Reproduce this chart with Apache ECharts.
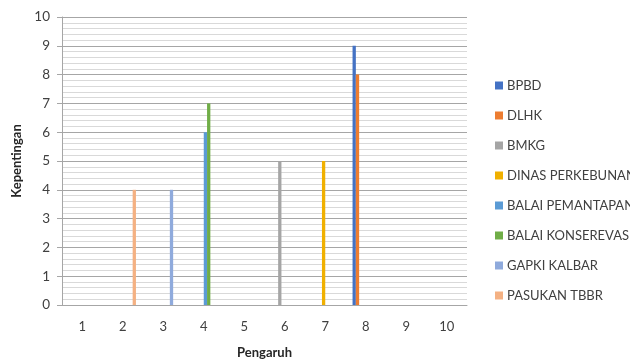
<!DOCTYPE html>
<html><head><meta charset="utf-8">
<script src="https://cdn.jsdelivr.net/npm/echarts@6/dist/echarts.min.js"></script>
<style>html,body{margin:0;padding:0;background:#fff}#c{width:630px;height:360px}</style>
</head><body><div id="c"></div>
<script>
const categories = ['1','2','3','4','5','6','7','8','9','10'];
const seriesNames = ['BPBD','DLHK','BMKG','DINAS PERKEBUNAN','BALAI PEMANTAPAN','BALAI KONSEREVASI','GAPKI KALBAR','PASUKAN TBBR'];
const bpbd      = [0,0,0,0,0,0,0,9,0,0];
const dlhk      = [0,0,0,0,0,0,0,8,0,0];
const bmkg      = [0,0,0,0,0,5,0,0,0,0];
const dinas     = [0,0,0,0,0,0,5,0,0,0];
const balaiPem  = [0,0,0,6,0,0,0,0,0,0];
const balaiKons = [0,0,0,7,0,0,0,0,0,0];
const gapki     = [0,0,4,0,0,0,0,0,0,0];
const pasukan   = [0,4,0,0,0,0,0,0,0,0];
const yTicks = [0,1,2,3,4,5,6,7,8,9,10];
const colors = ['#4472C4','#ED7D31','#A5A5A5','#F0B000','#5B9BD5','#70AD47','#8FAADC','#F4B183'];
const allData = [bpbd,dlhk,bmkg,dinas,balaiPem,balaiKons,gapki,pasukan];

const font = 'Lato, "Open Sans", sans-serif';
const chart = echarts.init(document.getElementById('c'), null, {renderer:'canvas'});
chart.setOption({
  animation:false,
  color: colors,
  textStyle:{fontFamily:font},
  grid:{left:62, right:163, top:17, bottom:55, containLabel:false, outerBoundsMode:'none'},
  legend:{
    orient:'vertical', left:490, top:74, itemGap:17, itemWidth:8, itemHeight:8,
    icon:'rect', itemStyle:{borderWidth:0},
    textStyle:{fontFamily:font, fontSize:13, color:'#404040', padding:[0,0,0,-1]},
    data: seriesNames
  },
  xAxis:{
    type:'category', data:categories,
    name:'Pengaruh', nameLocation:'middle', nameGap:41,
    nameTextStyle:{fontFamily:font, fontWeight:'bold', fontSize:13, color:'#262626'},
    axisLine:{lineStyle:{color:'#a6a6a6'}},
    axisTick:{show:false},
    axisLabel:{fontFamily:font, fontSize:13, color:'#404040', margin:15}
  },
  yAxis:{
    type:'value', min:0, max:10, interval:1,
    name:'Kepentingan', nameLocation:'middle', nameGap:38, nameRotate:90,
    nameTextStyle:{fontFamily:font, fontWeight:'bold', fontSize:13, color:'#262626'},
    axisLine:{show:true, lineStyle:{color:'#a6a6a6'}},
    axisTick:{show:true, length:5, lineStyle:{color:'#a6a6a6'}},
    axisLabel:{fontFamily:font, fontSize:13.5, color:'#404040', margin:12},
    splitLine:{lineStyle:{color:'#a6a6a6'}},
    minorTick:{show:false, splitNumber:5},
    minorSplitLine:{show:true, lineStyle:{color:'#d9d9d9'}}
  },
  series: seriesNames.map((n,i)=>({
    name:n, type:'bar', data:allData[i], barWidth:3.3, barGap:'0%'
  }))
});
</script></body></html>
